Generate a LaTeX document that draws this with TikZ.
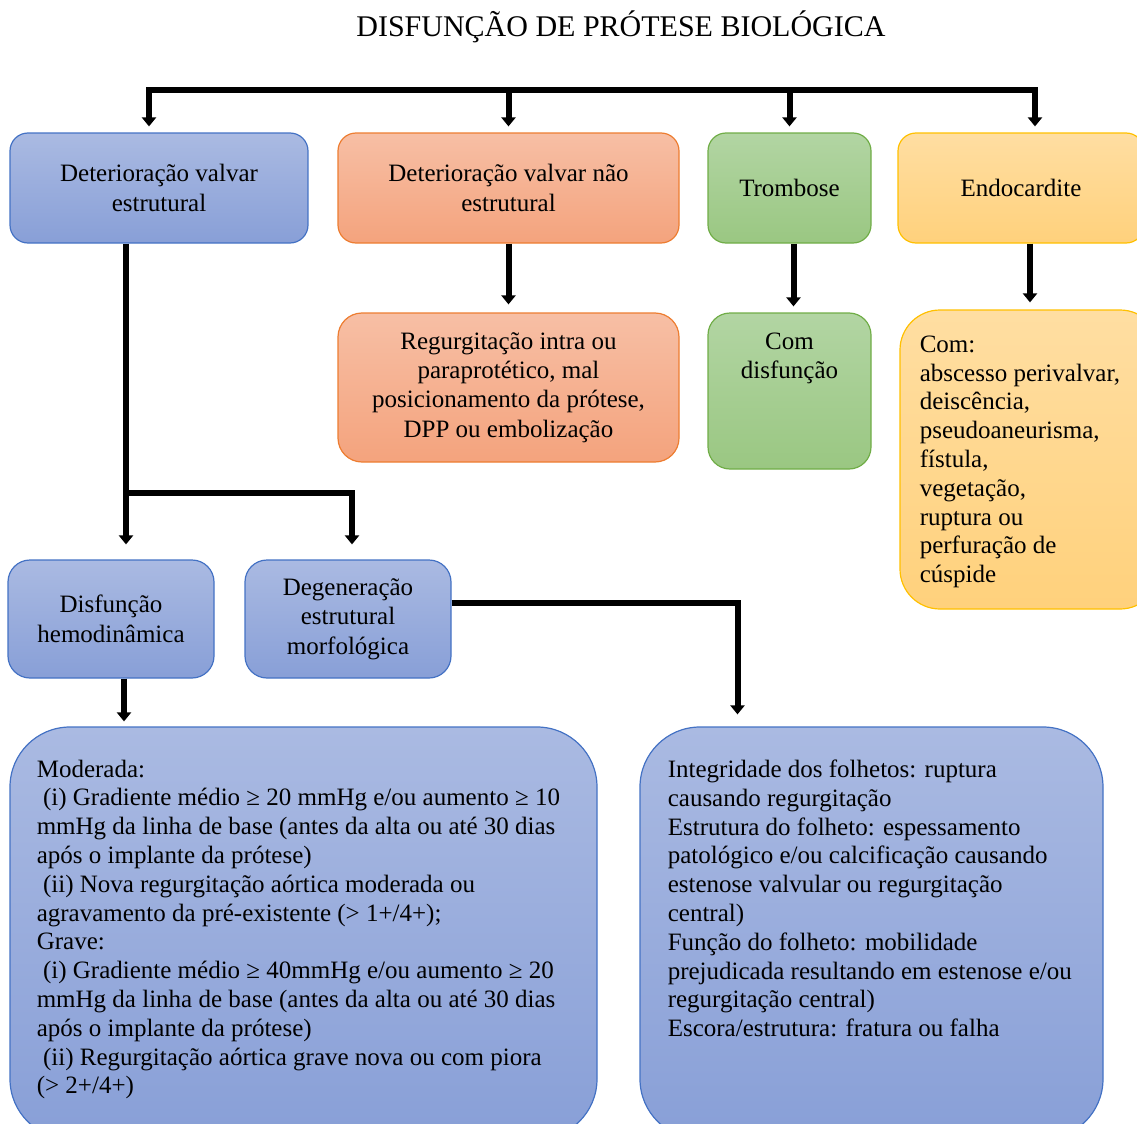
\documentclass[tikz,border=0pt]{standalone}
\usepackage{fontspec}
\setmainfont{Liberation Serif}
\usetikzlibrary{arrows.meta,positioning}
\definecolor{azulborda}{HTML}{4472C4}
\definecolor{azulcima}{HTML}{AABAE2}
\definecolor{azulbaixo}{HTML}{889FD7}
\definecolor{laranjaborda}{HTML}{ED7D31}
\definecolor{laranjacima}{HTML}{F7BFA5}
\definecolor{laranjabaixo}{HTML}{F4A37D}
\definecolor{verdeborda}{HTML}{70AD47}
\definecolor{verdecima}{HTML}{B2D5A3}
\definecolor{verdebaixo}{HTML}{9AC782}
\definecolor{amareloborda}{HTML}{FFC000}
\definecolor{amarelocima}{HTML}{FFDEA2}
\definecolor{amarelobaixo}{HTML}{FFD17C}
\tikzset{
	titulo/.style={font=\fontsize{15}{17}\selectfont, inner sep=0pt},
	caixa/.style={rectangle, rounded corners=9pt, line width=0.6pt, align=center,
		font=\fontsize{12.5}{14.7}\selectfont, inner sep=0pt},
	azul/.style={caixa, draw=azulborda, top color=azulcima, bottom color=azulbaixo},
	laranja/.style={caixa, draw=laranjaborda, top color=laranjacima, bottom color=laranjabaixo},
	verde/.style={caixa, draw=verdeborda, top color=verdecima, bottom color=verdebaixo},
	amarelo/.style={caixa, draw=amareloborda, top color=amarelocima, bottom color=amarelobaixo},
	texto/.style={align=left, font=\fontsize{12.5}{14.4}\selectfont, inner sep=0pt},
	linha/.style={line width=3pt},
	seta/.style={linha, -{Triangle[width=7pt,length=4.5pt]}}
}

\begin{document}
\begin{tikzpicture}[x=0.5pt, y=-0.5pt]
	\clip (0,0) rectangle (1137,1124);
	\node[titulo] (titulo) at (621,27) {DISFUNÇÃO DE PRÓTESE BIOLÓGICA};
	
	\node[azul, minimum width=149pt, minimum height=55pt] (dve) at (159,188) {Deterioração valvar\\estrutural};
	\node[laranja, minimum width=170.5pt, minimum height=55pt] (dvne) at (508.5,188) {Deterioração valvar não\\estrutural};
	\node[verde, minimum width=81.5pt, minimum height=55pt] (tromb) at (789.5,188) {Trombose};
	\node[amarelo, minimum width=123pt, minimum height=55pt] (endo) at (1021,188) {Endocardite};
	
	\node[laranja, minimum width=170.5pt, minimum height=74.5pt, rounded corners=12pt] (regurg) at (508.5,387.5)
		{Regurgitação intra ou\\paraprotético, mal\\posicionamento da prótese,\\DPP ou embolização};
	\node[verde, minimum width=81.5pt, minimum height=78pt, rounded corners=11pt,
		label={[texto, align=center, anchor=north, yshift=-10pt]north:Com\\disfunção}] (comdisf) at (789.5,391) {};
	\node[amarelo, minimum width=130pt, minimum height=149.5pt, rounded corners=20pt,
		label={[texto, anchor=north west, xshift=10pt, yshift=-13pt]north west:Com:\\abscesso perivalvar,\\deiscência,\\pseudoaneurisma,\\fístula,\\vegetação,\\ruptura ou\\perfuração de\\cúspide}] (complic) at (1030,459.5) {};
	
	\node[azul, minimum width=103pt, minimum height=59pt, rounded corners=11pt] (hemo) at (111,619) {Disfunção\\hemodinâmica};
	\node[azul, minimum width=103pt, minimum height=59pt, rounded corners=11pt] (morfo) at (348,619) {Degeneração\\estrutural\\morfológica};
	
	\node[azul, minimum width=293.5pt, minimum height=206pt, rounded corners=30pt,
		label={[texto, anchor=north west, xshift=13.5pt, yshift=-16.5pt]north west:Moderada:\\
			\ (i) Gradiente médio ≥ 20 mmHg e/ou aumento ≥ 10\\
			mmHg da linha de base (antes da alta ou até 30 dias\\
			após o implante da prótese)\\
			\ (ii) Nova regurgitação aórtica moderada ou\\
			agravamento da pré-existente (> 1+/4+);\\
			Grave:\\
			\ (i) Gradiente médio ≥ 40mmHg e/ou aumento ≥ 20\\
			mmHg da linha de base (antes da alta ou até 30 dias\\
			após o implante da prótese)\\
			\ (ii) Regurgitação aórtica grave nova ou com piora\\
			(> 2+/4+)}] (moderada) at (303.5,933) {};
	\node[azul, minimum width=231.5pt, minimum height=206pt, rounded corners=30pt,
		label={[texto, anchor=north west, xshift=14pt, yshift=-16.5pt]north west:Integridade dos folhetos: ruptura\\
			causando regurgitação\\
			Estrutura do folheto: espessamento\\
			patológico e/ou calcificação causando\\
			estenose valvular ou regurgitação\\
			central)\\
			Função do folheto: mobilidade\\
			prejudicada resultando em estenose e/ou\\
			regurgitação central)\\
			Escora/estrutura: fratura ou falha}] (folhetos) at (871.5,933) {};
	
	\coordinate (barra) at (0,90);
	\coordinate (ta) at ([xshift=-5pt]dve.north);
	\coordinate (te) at ([xshift=7pt]endo.north);
	\draw[linha, {Triangle[width=7pt,length=4.5pt]}-{Triangle[width=7pt,length=4.5pt]}, shorten <=3pt, shorten >=3pt]
		(ta) -- (ta |- barra) -- (te |- barra) -- (te);
	\foreach \n in {dvne,tromb}
		\draw[seta, shorten >=3pt] (\n.north |- barra) -- (\n.north);
	
	\draw[seta, shorten >=4pt] (dvne.south) -- (regurg.north);
	\draw[seta, shorten >=3pt] ([xshift=2pt]tromb.south) -- ([xshift=2pt]comdisf.north);
	\draw[seta, shorten >=3.5pt] (complic.north |- endo.south) -- (complic.north);
	
	\coordinate (sa) at ([xshift=-16.5pt]dve.south);
	\coordinate (ramo) at (0,493);
	\draw[seta, shorten >=7.5pt] (sa) -- (sa |- hemo.north);
	\draw[seta, shorten >=7.5pt] (sa |- ramo) -| ([xshift=2pt]morfo.north);
	
	\coordinate (se) at ([xshift=6.5pt]hemo.south);
	\draw[seta, shorten >=2.5pt] (se) -- (se |- moderada.north);
	\coordinate (th) at ([xshift=-67pt]folhetos.north);
	\draw[seta, shorten >=6pt] ([yshift=8pt]morfo.east) -| (th);
\end{tikzpicture}
\end{document}
